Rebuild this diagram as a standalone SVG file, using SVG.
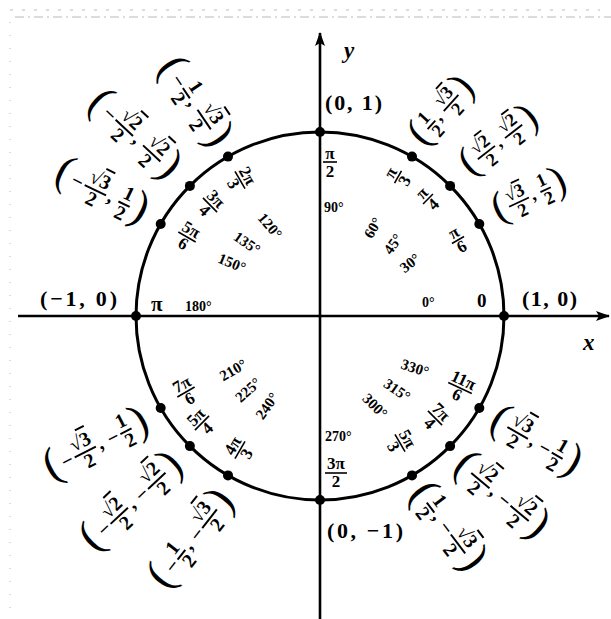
<svg xmlns="http://www.w3.org/2000/svg" width="611" height="619" viewBox="0 0 611 619">
<style>
text{font-family:"Liberation Serif","DejaVu Serif",serif;font-weight:bold;fill:#000}
.fr{font-size:16px;text-anchor:middle}
.rf{font-size:17px;text-anchor:middle}
.par{font-size:36px;font-weight:normal}
.cm{font-size:16px}
.mn{font-size:16px}
.deg{font-size:15px;text-anchor:middle}
.big{font-size:22px}
.ax{font-size:23px;font-style:italic}
.ov{text-decoration:overline}
.bar{stroke:#000;stroke-width:1.6}
.axis{stroke:#000;stroke-width:2.6;fill:none}
.dot{fill:#000}
.scan{fill:none;stroke:#b8b8b8;stroke-width:1}
</style>
<defs>
<marker id="arr" viewBox="0 0 14 10" refX="13" refY="5" markerWidth="14" markerHeight="10" markerUnits="userSpaceOnUse" orient="auto">
<path d="M0,0 L14,5 L0,10 L3,5 Z" fill="#000"/>
</marker>
</defs>
<rect width="611" height="619" fill="#fff"/>
<g id="scan-edges">
<line class="scan" x1="15" y1="17" x2="611" y2="17" stroke-dasharray="9 4 2 4"/>
<line class="scan" x1="10" y1="10" x2="600" y2="10" stroke-dasharray="3 9" stroke="#d6d6d6"/>
<line class="scan" x1="10" y1="22" x2="10" y2="619" stroke-dasharray="1 12"/>
</g>
<g id="connectors">
<line class="axis" x1="18" y1="316" x2="609" y2="316" marker-end="url(#arr)"/>
<line class="axis" x1="320" y1="619" x2="320" y2="33" marker-end="url(#arr)"/>
<circle cx="320" cy="316" r="184" fill="none" stroke="#000" stroke-width="3"/>
</g>
<g id="axis-labels">
<text class="ax" x="344" y="58">y</text>
<text class="ax" x="583" y="350">x</text>
</g>

<g id="p0">
<circle class="dot" cx="504" cy="316" r="5"/>
<text class="big" x="522" y="306" textLength="55" lengthAdjust="spacing">(1, 0)</text>
<text x="477" y="307" font-size="19">0</text>
<text x="422" y="307" font-size="14">0°</text>
</g>

<g id="p30">
<circle class="dot" cx="479.3" cy="224" r="5"/>
<g transform="translate(530,197) rotate(-25) scale(1.15)">
<text class="par" x="-34" y="8">(</text>
<text class="fr" x="-10.5" y="-4">√<tspan class="ov">3</tspan></text><line class="bar" x1="-20" y1="0" x2="-1" y2="0"/><text class="fr" x="-10.5" y="13">2</text>
<text class="cm" x="1" y="4">,</text>
<text class="fr" x="15" y="-4">1</text><line class="bar" x1="10" y1="0" x2="20" y2="0"/><text class="fr" x="15" y="13">2</text>
<text class="par" x="22" y="8">)</text>
</g>
<g transform="translate(458,240) rotate(-30)"><text class="rf" x="0" y="-3">π</text><line class="bar" x1="-7" y1="0" x2="7" y2="0"/><text class="rf" x="0" y="13">6</text></g>
<text class="deg" transform="translate(410,263) rotate(-38)" y="5">30°</text>
</g>

<g id="p45">
<circle class="dot" cx="450.1" cy="185.9" r="5"/>
<g transform="translate(500,142) rotate(-38) scale(1.15)">
<text class="par" x="-38.5" y="8">(</text>
<text class="fr" x="-15" y="-4">√<tspan class="ov">2</tspan></text><line class="bar" x1="-24.5" y1="0" x2="-5.5" y2="0"/><text class="fr" x="-15" y="13">2</text>
<text class="cm" x="-3.5" y="4">,</text>
<text class="fr" x="15" y="-4">√<tspan class="ov">2</tspan></text><line class="bar" x1="5.5" y1="0" x2="24.5" y2="0"/><text class="fr" x="15" y="13">2</text>
<text class="par" x="26.5" y="8">)</text>
</g>
<g transform="translate(428,199) rotate(-45)"><text class="rf" x="0" y="-3">π</text><line class="bar" x1="-7" y1="0" x2="7" y2="0"/><text class="rf" x="0" y="13">4</text></g>
<text class="deg" transform="translate(393,244) rotate(-55)" y="5">45°</text>
</g>

<g id="p60">
<circle class="dot" cx="412" cy="156.6" r="5"/>
<g transform="translate(443,112) rotate(-48) scale(1.15)">
<text class="par" x="-34" y="8">(</text>
<text class="fr" x="-15" y="-4">1</text><line class="bar" x1="-20" y1="0" x2="-10" y2="0"/><text class="fr" x="-15" y="13">2</text>
<text class="cm" x="-8" y="4">,</text>
<text class="fr" x="10.5" y="-4">√<tspan class="ov">3</tspan></text><line class="bar" x1="1" y1="0" x2="20" y2="0"/><text class="fr" x="10.5" y="13">2</text>
<text class="par" x="22" y="8">)</text>
</g>
<g transform="translate(398,177) rotate(-60)"><text class="rf" x="0" y="-3">π</text><line class="bar" x1="-7" y1="0" x2="7" y2="0"/><text class="rf" x="0" y="13">3</text></g>
<text class="deg" transform="translate(373,228) rotate(-60)" y="5">60°</text>
</g>

<g id="p90">
<circle class="dot" cx="320" cy="132" r="5"/>
<text class="big" x="325" y="110" textLength="57" lengthAdjust="spacing">(0, 1)</text>
<text class="rf" x="330" y="159">π</text><line class="bar" x1="323" y1="162" x2="337" y2="162"/><text class="rf" x="330" y="177">2</text>
<text x="324" y="212" font-size="14">90°</text>
</g>

<g id="p120">
<circle class="dot" cx="228" cy="156.6" r="5"/>
<g transform="translate(193,103) rotate(56) scale(1.25)">
<text class="par" x="-39.5" y="8">(</text>
<text class="mn" x="-25.5" y="5">−</text>
<text class="fr" x="-9.5" y="-4">1</text><line class="bar" x1="-14.5" y1="0" x2="-4.5" y2="0"/><text class="fr" x="-9.5" y="13">2</text>
<text class="cm" x="-2.5" y="4">,</text>
<text class="fr" x="16" y="-4">√<tspan class="ov">3</tspan></text><line class="bar" x1="6.5" y1="0" x2="25.5" y2="0"/><text class="fr" x="16" y="13">2</text>
<text class="par" x="27.5" y="8">)</text>
</g>
<g transform="translate(240,180) rotate(60)"><text class="rf" x="0" y="-3">2π</text><line class="bar" x1="-10" y1="0" x2="10" y2="0"/><text class="rf" x="0" y="13">3</text></g>
<text class="deg" transform="translate(270,226) rotate(50)" y="5">120°</text>
</g>

<g id="p135">
<circle class="dot" cx="189.9" cy="185.9" r="5"/>
<g transform="translate(133,136) rotate(43) scale(1.25)">
<text class="par" x="-44" y="8">(</text>
<text class="mn" x="-30" y="5">−</text>
<text class="fr" x="-9.5" y="-4">√<tspan class="ov">2</tspan></text><line class="bar" x1="-19" y1="0" x2="0" y2="0"/><text class="fr" x="-9.5" y="13">2</text>
<text class="cm" x="2" y="4">,</text>
<text class="fr" x="20.5" y="-4">√<tspan class="ov">2</tspan></text><line class="bar" x1="11" y1="0" x2="30" y2="0"/><text class="fr" x="20.5" y="13">2</text>
<text class="par" x="32" y="8">)</text>
</g>
<g transform="translate(210,205) rotate(45)"><text class="rf" x="0" y="-3">3π</text><line class="bar" x1="-10" y1="0" x2="10" y2="0"/><text class="rf" x="0" y="13">4</text></g>
<text class="deg" transform="translate(247,243) rotate(35)" y="5">135°</text>
</g>

<g id="p150">
<circle class="dot" cx="160.7" cy="224" r="5"/>
<g transform="translate(101,193) rotate(26) scale(1.25)">
<text class="par" x="-39.5" y="8">(</text>
<text class="mn" x="-25.5" y="5">−</text>
<text class="fr" x="-5" y="-4">√<tspan class="ov">3</tspan></text><line class="bar" x1="-14.5" y1="0" x2="4.5" y2="0"/><text class="fr" x="-5" y="13">2</text>
<text class="cm" x="6.5" y="4">,</text>
<text class="fr" x="20.5" y="-4">1</text><line class="bar" x1="15.5" y1="0" x2="25.5" y2="0"/><text class="fr" x="20.5" y="13">2</text>
<text class="par" x="27.5" y="8">)</text>
</g>
<g transform="translate(187,237) rotate(30)"><text class="rf" x="0" y="-3">5π</text><line class="bar" x1="-10" y1="0" x2="10" y2="0"/><text class="rf" x="0" y="13">6</text></g>
<text class="deg" transform="translate(232,263) rotate(22)" y="5">150°</text>
</g>

<g id="p180">
<circle class="dot" cx="136" cy="316" r="5"/>
<text class="big" x="40" y="306" textLength="77" lengthAdjust="spacing">(−1, 0)</text>
<text x="151" y="311" font-size="21">π</text>
<text x="185" y="311" font-size="14">180°</text>
</g>

<g id="p210">
<circle class="dot" cx="160.7" cy="408" r="5"/>
<g transform="translate(97,446) rotate(-27) scale(1.25)">
<text class="par" x="-45" y="8">(</text>
<text class="mn" x="-31" y="5">−</text>
<text class="fr" x="-10.5" y="-4">√<tspan class="ov">3</tspan></text><line class="bar" x1="-20" y1="0" x2="-1" y2="0"/><text class="fr" x="-10.5" y="13">2</text>
<text class="cm" x="1" y="4">,</text>
<text class="mn" x="10" y="5">−</text>
<text class="fr" x="26" y="-4">1</text><line class="bar" x1="21" y1="0" x2="31" y2="0"/><text class="fr" x="26" y="13">2</text>
<text class="par" x="33" y="8">)</text>
</g>
<g transform="translate(186,392) rotate(-30)"><text class="rf" x="0" y="-3">7π</text><line class="bar" x1="-10" y1="0" x2="10" y2="0"/><text class="rf" x="0" y="13">6</text></g>
<text class="deg" transform="translate(233,370) rotate(-30)" y="5">210°</text>
</g>

<g id="p225">
<circle class="dot" cx="189.9" cy="446.1" r="5"/>
<g transform="translate(133,503) rotate(-43) scale(1.25)">
<text class="par" x="-49.5" y="8">(</text>
<text class="mn" x="-35.5" y="5">−</text>
<text class="fr" x="-15" y="-4">√<tspan class="ov">2</tspan></text><line class="bar" x1="-24.5" y1="0" x2="-5.5" y2="0"/><text class="fr" x="-15" y="13">2</text>
<text class="cm" x="-3.5" y="4">,</text>
<text class="mn" x="5.5" y="5">−</text>
<text class="fr" x="26" y="-4">√<tspan class="ov">2</tspan></text><line class="bar" x1="16.5" y1="0" x2="35.5" y2="0"/><text class="fr" x="26" y="13">2</text>
<text class="par" x="37.5" y="8">)</text>
</g>
<g transform="translate(202,423) rotate(-45)"><text class="rf" x="0" y="-3">5π</text><line class="bar" x1="-10" y1="0" x2="10" y2="0"/><text class="rf" x="0" y="13">4</text></g>
<text class="deg" transform="translate(248,390) rotate(-42)" y="5">225°</text>
</g>

<g id="p240">
<circle class="dot" cx="228" cy="475.4" r="5"/>
<g transform="translate(193,540) rotate(-52) scale(1.25)">
<text class="par" x="-45" y="8">(</text>
<text class="mn" x="-31" y="5">−</text>
<text class="fr" x="-15" y="-4">1</text><line class="bar" x1="-20" y1="0" x2="-10" y2="0"/><text class="fr" x="-15" y="13">2</text>
<text class="cm" x="-8" y="4">,</text>
<text class="mn" x="1" y="5">−</text>
<text class="fr" x="21.5" y="-4">√<tspan class="ov">3</tspan></text><line class="bar" x1="12" y1="0" x2="31" y2="0"/><text class="fr" x="21.5" y="13">2</text>
<text class="par" x="33" y="8">)</text>
</g>
<g transform="translate(240,450) rotate(-60)"><text class="rf" x="0" y="-3">4π</text><line class="bar" x1="-10" y1="0" x2="10" y2="0"/><text class="rf" x="0" y="13">3</text></g>
<text class="deg" transform="translate(267,406) rotate(-55)" y="5">240°</text>
</g>

<g id="p270">
<circle class="dot" cx="320" cy="500" r="5"/>
<text class="big" x="327" y="538" textLength="76" lengthAdjust="spacing">(0, −1)</text>
<text class="rf" x="336" y="469">3π</text><line class="bar" x1="325" y1="473" x2="347" y2="473"/><text class="rf" x="336" y="487">2</text>
<text x="325" y="441" font-size="14">270°</text>
</g>

<g id="p300">
<circle class="dot" cx="412" cy="475.4" r="5"/>
<g transform="translate(446,528) rotate(53) scale(1.25)">
<text class="par" x="-39.5" y="8">(</text>
<text class="fr" x="-20.5" y="-4">1</text><line class="bar" x1="-25.5" y1="0" x2="-15.5" y2="0"/><text class="fr" x="-20.5" y="13">2</text>
<text class="cm" x="-13.5" y="4">,</text>
<text class="mn" x="-4.5" y="5">−</text>
<text class="fr" x="16" y="-4">√<tspan class="ov">3</tspan></text><line class="bar" x1="6.5" y1="0" x2="25.5" y2="0"/><text class="fr" x="16" y="13">2</text>
<text class="par" x="27.5" y="8">)</text>
</g>
<g transform="translate(400,443) rotate(60)"><text class="rf" x="0" y="-3">5π</text><line class="bar" x1="-10" y1="0" x2="10" y2="0"/><text class="rf" x="0" y="13">3</text></g>
<text class="deg" transform="translate(375,406) rotate(45)" y="5">300°</text>
</g>

<g id="p315">
<circle class="dot" cx="450.1" cy="446.1" r="5"/>
<g transform="translate(500,497) rotate(40) scale(1.25)">
<text class="par" x="-44" y="8">(</text>
<text class="fr" x="-20.5" y="-4">√<tspan class="ov">2</tspan></text><line class="bar" x1="-30" y1="0" x2="-11" y2="0"/><text class="fr" x="-20.5" y="13">2</text>
<text class="cm" x="-9" y="4">,</text>
<text class="mn" x="0" y="5">−</text>
<text class="fr" x="20.5" y="-4">√<tspan class="ov">2</tspan></text><line class="bar" x1="11" y1="0" x2="30" y2="0"/><text class="fr" x="20.5" y="13">2</text>
<text class="par" x="32" y="8">)</text>
</g>
<g transform="translate(435,418) rotate(45)"><text class="rf" x="0" y="-3">7π</text><line class="bar" x1="-10" y1="0" x2="10" y2="0"/><text class="rf" x="0" y="13">4</text></g>
<text class="deg" transform="translate(397,390) rotate(35)" y="5">315°</text>
</g>

<g id="p330">
<circle class="dot" cx="479.3" cy="408" r="5"/>
<g transform="translate(535,443) rotate(30) scale(1.25)">
<text class="par" x="-39.5" y="8">(</text>
<text class="fr" x="-16" y="-4">√<tspan class="ov">3</tspan></text><line class="bar" x1="-25.5" y1="0" x2="-6.5" y2="0"/><text class="fr" x="-16" y="13">2</text>
<text class="cm" x="-4.5" y="4">,</text>
<text class="mn" x="4.5" y="5">−</text>
<text class="fr" x="20.5" y="-4">1</text><line class="bar" x1="15.5" y1="0" x2="25.5" y2="0"/><text class="fr" x="20.5" y="13">2</text>
<text class="par" x="27.5" y="8">)</text>
</g>
<g transform="translate(460,388) rotate(25)"><text class="rf" x="0" y="-3">11π</text><line class="bar" x1="-13" y1="0" x2="13" y2="0"/><text class="rf" x="0" y="13">6</text></g>
<text class="deg" transform="translate(415,368) rotate(18)" y="5">330°</text>
</g>
</svg>
